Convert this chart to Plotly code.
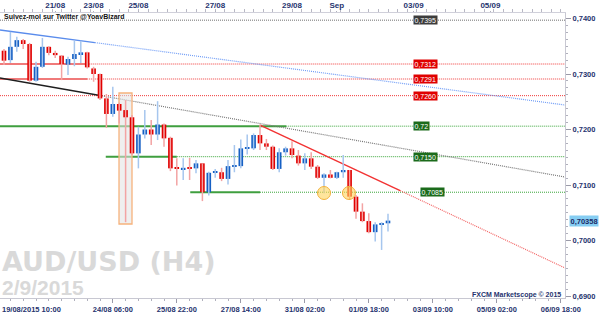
import plotly.graph_objects as go
import numpy as np

# ---------------- data (AUD/USD, H4 bars) ----------------
opens = [0.7342,0.7325,0.7349,0.7361,0.7354,0.7288,0.7313,0.7349,0.7338,0.7333,
         0.7317,0.7327,0.7336,0.7339,0.7310,0.7300,0.7256,0.7228,0.7246,0.7235,
         0.7222,0.7157,0.7191,0.7200,0.7191,0.7209,0.7185,0.7131,0.7128,0.7132,
         0.7130,0.7139,0.7087,0.7122,0.7123,0.7111,0.7133,0.7134,0.7165,0.7166,
         0.7190,0.7175,0.7169,0.7129,0.7159,0.7166,0.7153,0.7139,0.7148,0.7133,
         0.7113,0.7119,0.7113,0.7123,0.7127,0.7079,0.7052,0.7035,0.7015,0.7029,
         0.7031]
highs = [0.7345,0.7376,0.7367,0.7363,0.7356,0.7322,0.7365,0.7350,0.7342,0.7334,
         0.7331,0.7360,0.7360,0.7340,0.7313,0.7301,0.7264,0.7277,0.7248,0.7253,
         0.7226,0.7205,0.7235,0.7217,0.7251,0.7211,0.7187,0.7148,0.7148,0.7149,
         0.7145,0.7139,0.7124,0.7129,0.7131,0.7145,0.7172,0.7182,0.7191,0.7193,
         0.7209,0.7183,0.7171,0.7166,0.7169,0.7179,0.7163,0.7157,0.7159,0.7136,
         0.7121,0.7127,0.7124,0.7154,0.7127,0.7082,0.7067,0.7049,0.7033,0.7033,
         0.7048]
lows = [0.7316,0.7320,0.7340,0.7345,0.7286,0.7286,0.7311,0.7334,0.7329,0.7289,
        0.7298,0.7314,0.7320,0.7310,0.7286,0.7253,0.7203,0.7223,0.7211,0.7033,
        0.7154,0.7130,0.7184,0.7172,0.7181,0.7169,0.7125,0.7099,0.7109,0.7109,
        0.7121,0.7071,0.7081,0.7113,0.7107,0.7101,0.7123,0.7130,0.7155,0.7163,
        0.7163,0.7163,0.7127,0.7123,0.7153,0.7148,0.7135,0.7127,0.7129,0.7111,
        0.7085,0.7112,0.7111,0.7113,0.7073,0.7039,0.7033,0.7013,0.6998,0.6983,
        0.7016]
closes = [0.7324,0.7349,0.7361,0.7354,0.7288,0.7313,0.7349,0.7338,0.7334,0.7318,
          0.7327,0.7336,0.7339,0.7312,0.7300,0.7256,0.7228,0.7246,0.7234,0.7222,
          0.7157,0.7191,0.7200,0.7191,0.7209,0.7184,0.7130,0.7129,0.7131,0.7130,
          0.7139,0.7087,0.7122,0.7124,0.7111,0.7134,0.7135,0.7166,0.7167,0.7190,
          0.7175,0.7169,0.7129,0.7159,0.7166,0.7154,0.7139,0.7148,0.7133,0.7113,
          0.7119,0.7113,0.7123,0.7127,0.7079,0.7052,0.7035,0.7015,0.7029,0.7031,
          0.70358]

bottom_tick_bars = [17, 27, 37, 47, 57, 67, 77, 87]
bottom_tick_labels = ["24/08 06:00", "25/08 22:00", "27/08 14:00", "31/08 02:00",
                      "01/09 18:00", "03/09 10:00", "05/09 02:00", "06/09 18:00"]
first_bar_label = "19/08/2015 10:00"
top_tick_bars = [8, 14, 21, 33, 45, 52, 64, 76]
top_tick_labels = ["21/08", "23/08", "25/08", "27/08", "29/08", "Sep", "03/09", "05/09"]

# horizontal levels: (value, label, colour kind, solid segment start, solid segment end)
level_values = [0.7397, 0.7318, 0.7291, 0.7261, 0.7206, 0.7151, 0.7087]
level_labels = ["0,7395", "0,7312", "0,7291", "0,7260", "0,72", "0,7150", "0,7085"]
level_kinds = ["gray", "red", "red", "red", "green", "green", "green"]
level_solid_from = [None, -0.63, -0.63, None, -0.63, 15.9, 29.1]
level_solid_to = [None, 12.7, 13.0, None, 44.1, 27.0, 40.0]
level_label_bar = [63.9, 63.9, 63.9, 63.9, 63.9, 63.9, 65.0]

# trend lines: start point, end of solid part, end of ray
blue_trend = [(-0.63, 0.73793), (14.2, 0.73566), (87.66, 0.72441)]
black_trend = [(-0.63, 0.72928), (15.0, 0.72613), (87.66, 0.71144)]
red_trend = [(40.0, 0.72081), (61.9, 0.70899), (87.66, 0.69505)]

crash_box = [(17.97, 0.70297), (20.0, 0.72658)]
circle_bars = [50.0, 53.9]
circle_values = [0.70856, 0.70856]
last_price = 0.70358

X_RANGE = [-0.625, 87.656]
Y_RANGE = [0.68964, 0.740991]

# ---------------- figure ----------------
n = len(opens)
idx = np.arange(n)
o = np.array(opens); c = np.array(closes); h = np.array(highs); l = np.array(lows)
up = c >= o

fig = go.Figure()

# wicks
for mask, col in [(~up, "#f3a3a3"), (up, "#a6c6ee")]:
    wx, wy = [], []
    for i in idx[mask]:
        wx += [i, i, None]
        wy += [l[i], h[i], None]
    fig.add_trace(go.Scatter(x=wx, y=wy, mode="lines",
                             line=dict(color=col, width=1.5),
                             hoverinfo="skip", showlegend=False))

# bodies
body_base = np.minimum(o, c)
body_h = np.maximum(np.abs(c - o), 0.00018)
fig.add_trace(go.Bar(x=idx, y=body_h, base=body_base, width=0.72,
                     marker=dict(color=np.where(up, "#1660c4", "#e10000").tolist(),
                                 line=dict(width=0)),
                     showlegend=False))

# circles
fig.add_trace(go.Scatter(x=circle_bars, y=circle_values, mode="markers",
                         marker=dict(size=13, color="rgba(255,212,90,0.6)",
                                     line=dict(color="#f2b23c", width=1)),
                         showlegend=False))

# top-axis orange markers
fig.add_trace(go.Scatter(x=top_tick_bars, y=[0.74146] * len(top_tick_bars),
                         xaxis="x2", mode="markers", cliponaxis=False,
                         marker=dict(symbol="triangle-down", size=5, color="#f5a020"),
                         showlegend=False))

shapes = []
colors = {"gray": ("#6e6e6e", "#6e6e6e"), "red": ("#f07a7a", "#f03a3a"),
          "green": ("#3f9f3f", "#3aa63a")}
for v, kind, s0, s1 in zip(level_values, level_kinds, level_solid_from, level_solid_to):
    solid_c, dot_c = colors[kind]
    dot_start = X_RANGE[0] if s0 is None else s1
    shapes.append(dict(type="line", xref="x", yref="y", x0=dot_start, x1=X_RANGE[1],
                       y0=v, y1=v, line=dict(color=dot_c, width=1, dash="1px,1px"),
                       layer="below"))
    if s0 is not None:
        shapes.append(dict(type="line", xref="x", yref="y", x0=s0, x1=s1, y0=v, y1=v,
                           line=dict(color=solid_c, width=2), layer="below"))

for pts, solid_c, dot_c in [(blue_trend, "#5a8cec", "#6f9cf6"),
                            (black_trend, "#1e1e1e", "#777777"),
                            (red_trend, "#f23232", "#f26262")]:
    (x0, y0), (x1, y1), (x2, y2) = pts
    shapes.append(dict(type="line", xref="x", yref="y", x0=x0, y0=y0, x1=x1, y1=y1,
                       line=dict(color=solid_c, width=1.4), layer="below"))
    shapes.append(dict(type="line", xref="x", yref="y", x0=x1, y0=y1, x1=x2, y1=y2,
                       line=dict(color=dot_c, width=1.2, dash="1px,1px"), layer="below"))

shapes.append(dict(type="rect", xref="x", yref="y",
                   x0=crash_box[0][0], y0=crash_box[0][1],
                   x1=crash_box[1][0], y1=crash_box[1][1],
                   fillcolor="rgba(225,225,225,0.55)",
                   line=dict(color="#f6b27c", width=1.3), layer="below"))

annotations = []
box_bg = {"gray": "#3c3c3c", "red": "#e00000", "green": "#1b6b1b"}
for v, lab, kind, xb in zip(level_values, level_labels, level_kinds, level_label_bar):
    annotations.append(dict(x=xb, y=v, xref="x", yref="y", text=lab, showarrow=False,
                            xanchor="left", yanchor="middle", bgcolor=box_bg[kind],
                            borderpad=0.5,
                            font=dict(family="Liberation Sans", size=7, color="white")))

annotations.append(dict(x=1, y=last_price, xref="paper", yref="y",
                        text=f"{last_price:.5f}".replace(".", ","), showarrow=False,
                        xanchor="left", yanchor="middle", xshift=4, bgcolor="#86cdf2",
                        borderpad=0.5,
                        font=dict(family="Liberation Sans", size=7.5, color="#1d2b66",
                                  weight="bold")))

annotations.append(dict(x=0, y=-0.016, xref="paper", yref="paper", text=first_bar_label,
                        showarrow=False, xanchor="left", yanchor="top",
                        font=dict(family="Liberation Sans", size=7.5, color="#26336e",
                                  weight="bold")))

annotations.append(dict(x=0.0, y=0.127, xref="paper", yref="paper", text="AUD/USD (H4)",
                        showarrow=False, xanchor="left", yanchor="middle",
                        font=dict(family="DejaVu Sans", size=27, color="#d9d9d9",
                                  weight="bold")))
annotations.append(dict(x=0.0, y=0.037, xref="paper", yref="paper", text="2/9/2015",
                        showarrow=False, xanchor="left", yanchor="middle",
                        font=dict(family="Liberation Sans", size=21, color="#d9d9d9",
                                  weight="bold")))
annotations.append(dict(x=0.004, y=0.986, xref="paper", yref="paper",
                        text="Suivez-moi sur Twitter @YoavBizard", showarrow=False,
                        xanchor="left", yanchor="middle",
                        font=dict(family="Liberation Sans", size=7, color="#111111",
                                  weight="bold")))
annotations.append(dict(x=0.9965, y=0.011, xref="paper", yref="paper",
                        text="FXCM Marketscope © 2015", showarrow=False,
                        xanchor="right", yanchor="middle",
                        font=dict(family="Liberation Sans", size=7, color="#26336e",
                                  weight="bold")))

axis_font = dict(family="Liberation Sans", size=7.5, color="#26336e", weight="bold")

fig.update_layout(
    width=602, height=315,
    margin=dict(l=0, r=37, t=13, b=17),
    paper_bgcolor="white", plot_bgcolor="white",
    separators=", ",
    barmode="overlay",
    showlegend=False,
    shapes=shapes,
    annotations=annotations,
    xaxis=dict(range=X_RANGE, showgrid=False, zeroline=False,
               tickvals=bottom_tick_bars, ticktext=bottom_tick_labels,
               ticks="outside", ticklen=4, tickcolor="#9a9aa8",
               showline=True, linecolor="#c8c8d2", linewidth=1,
               minor=dict(dtick=2, tick0=1, ticks="outside", ticklen=2, tickcolor="#b0b0bc"),
               tickfont=axis_font),
    xaxis2=dict(range=X_RANGE, overlaying="x", side="top", showgrid=False,
                zeroline=False, tickvals=top_tick_bars, ticktext=top_tick_labels,
                ticks="outside", ticklen=1, tickcolor="#b0b0bc",
                showline=True, linecolor="#d0d0da", linewidth=1,
                minor=dict(dtick=1.5, tick0=0, ticks="outside", ticklen=3, tickcolor="#b8b8c4"),
                tickfont=dict(family="Liberation Sans", size=8, color="#26336e",
                              weight="bold")),
    yaxis=dict(range=Y_RANGE, side="right", showgrid=False, zeroline=False,
               tickvals=[0.69, 0.70, 0.71, 0.72, 0.73, 0.74], tickformat=".4f",
               ticks="outside", ticklen=5, tickcolor="#9a9aa8",
               showline=True, linecolor="#c8c8d2", linewidth=1,
               minor=dict(dtick=0.00125, ticks="outside", ticklen=2, tickcolor="#b0b0bc"),
               tickfont=axis_font),
)

fig.write_html("out.html")
